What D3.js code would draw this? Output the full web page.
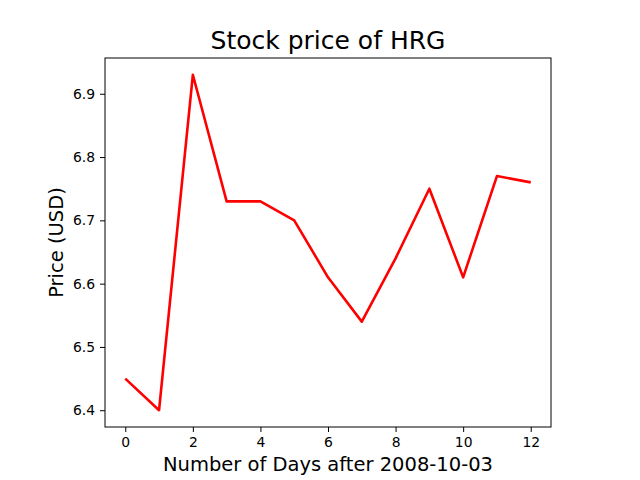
<!DOCTYPE html>
<html>
<head>
<meta charset="utf-8">
<script src="https://cdn.jsdelivr.net/npm/d3@7"></script>
<style>
  body { margin: 0; background: #fff; }
  text { font-family: "DejaVu Sans", sans-serif; }
</style>
</head>
<body>
<div id="chart"></div>
<script>
// data
let days = [0, 1, 2, 3, 4, 5, 6, 7, 8, 9, 10, 11, 12];
let prices = [6.45, 6.40, 6.93, 6.73, 6.73, 6.70, 6.61, 6.54, 6.64, 6.75, 6.61, 6.77, 6.76];
let xTicks = [0, 2, 4, 6, 8, 10, 12];
let yTicks = [6.4, 6.5, 6.6, 6.7, 6.8, 6.9];

let plotWidth = 640;
let plotHeight = 480;
let margin = { top: 58, right: 89, bottom: 53, left: 105 };
let width = plotWidth - margin.left - margin.right;
let height = plotHeight - margin.top - margin.bottom;

let svg = d3.select("#chart")
    .append("svg")
    .attr("width", plotWidth)
    .attr("height", plotHeight);

let graph = svg.append("g")
    .attr("transform", `translate(${margin.left}, ${margin.top})`);

// matplotlib style 5% padding
let xPad = (d3.max(days) - d3.min(days)) * 0.05;
let yPad = (d3.max(prices) - d3.min(prices)) * 0.05;

let xScale = d3.scaleLinear()
    .domain([d3.min(days) - xPad, d3.max(days) + xPad])
    .range([0, width]);

let yScale = d3.scaleLinear()
    .domain([d3.min(prices) - yPad, d3.max(prices) + yPad])
    .range([height, 0]);

let xAxis = d3.axisBottom(xScale).tickValues(xTicks).tickSize(5).tickPadding(5).tickFormat(d3.format("d"));
let yAxis = d3.axisLeft(yScale).tickValues(yTicks).tickSize(5).tickPadding(5).tickFormat(d3.format(".1f"));

let gx = graph.append("g")
    .attr("transform", `translate(0, ${height})`)
    .call(xAxis);
let gy = graph.append("g")
    .call(yAxis);

[gx, gy].forEach(function(g) {
    g.select(".domain").remove();
    g.selectAll("line").attr("stroke", "black").attr("stroke-width", 1);
    g.selectAll("text").attr("font-size", "13.9px").attr("fill", "black")
        .style("font-family", "DejaVu Sans, sans-serif");
});

// frame
graph.append("rect")
    .attr("x", 0)
    .attr("y", 0)
    .attr("width", width)
    .attr("height", height)
    .attr("fill", "none")
    .attr("stroke", "black")
    .attr("stroke-width", 1);

let line = d3.line()
    .x((d, i) => xScale(days[i]))
    .y(d => yScale(d));

graph.append("path")
    .datum(prices)
    .attr("d", line)
    .attr("fill", "none")
    .attr("stroke", "red")
    .attr("stroke-width", 2.6)
    .attr("stroke-linejoin", "round");

svg.append("text")
    .text("Stock price of HRG")
    .attr("x", margin.left + width / 2)
    .attr("y", 49)
    .attr("text-anchor", "middle")
    .attr("font-size", "25px");

svg.append("text")
    .text("Number of Days after 2008-10-03")
    .attr("x", margin.left + width / 2)
    .attr("y", 471)
    .attr("text-anchor", "middle")
    .attr("font-size", "19.5px");

svg.append("text")
    .text("Price (USD)")
    .attr("transform", `translate(63, ${margin.top + height / 2}) rotate(-90)`)
    .attr("text-anchor", "middle")
    .attr("font-size", "19.5px");
</script>
</body>
</html>
